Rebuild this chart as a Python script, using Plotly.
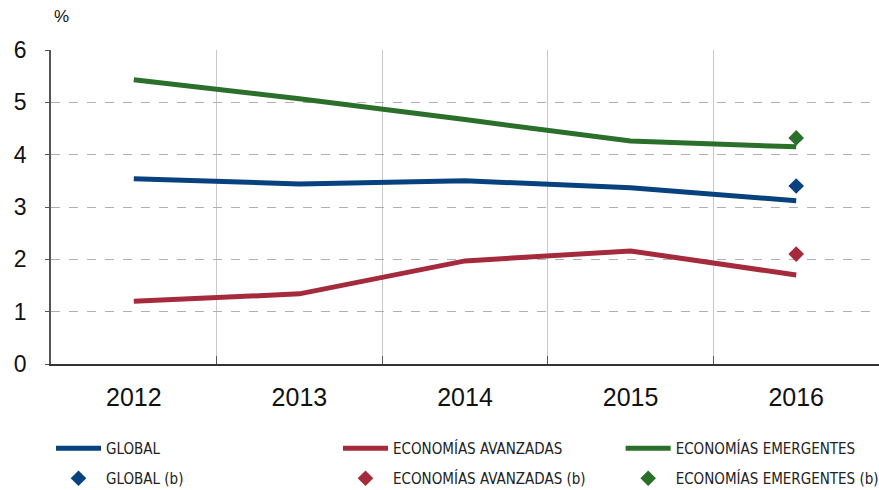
import plotly.graph_objects as go

years = ["2012", "2013", "2014", "2015", "2016"]
global_vals = [3.54, 3.44, 3.50, 3.37, 3.12]
avanzadas_vals = [1.20, 1.34, 1.97, 2.16, 1.70]
emergentes_vals = [5.43, 5.07, 4.67, 4.26, 4.15]
b_year = ["2016"]
global_b = [3.40]
avanzadas_b = [2.10]
emergentes_b = [4.32]

c_blue = "#07427f"
c_red = "#a52a3c"
c_green = "#2a6f2a"

col_x = [0.0, 0.3466, 0.688]
row_y = [-0.2166, -0.312]

fig = go.Figure()
lines = [("GLOBAL", global_vals, c_blue),
         ("ECONOMÍAS AVANZADAS", avanzadas_vals, c_red),
         ("ECONOMÍAS EMERGENTES", emergentes_vals, c_green)]
marks = [("GLOBAL (b)", global_b, c_blue),
         ("ECONOMÍAS AVANZADAS (b)", avanzadas_b, c_red),
         ("ECONOMÍAS EMERGENTES (b)", emergentes_b, c_green)]
for i, (name, vals, col) in enumerate(lines):
    fig.add_trace(go.Scatter(x=years, y=vals, mode="lines", name=name,
                             line=dict(color=col, width=5),
                             legend="legend" if i == 0 else f"legend{i+1}"))
for i, (name, vals, col) in enumerate(marks):
    fig.add_trace(go.Scatter(x=b_year, y=vals, mode="markers", name=name,
                             marker=dict(color=col, size=12, symbol="diamond"),
                             legend=f"legend{i+4}"))

leg_font = dict(family="Liberation Sans Narrow, DejaVu Sans Condensed, Liberation Sans", size=15, color="#222")
legends = {}
for r in range(2):
    for c in range(3):
        k = r * 3 + c
        key = "legend" if k == 0 else f"legend{k+1}"
        legends[key] = dict(x=col_x[c], y=row_y[r], xanchor="left", yanchor="top",
                            font=leg_font, itemwidth=45, bgcolor="rgba(0,0,0,0)",
                            visible=True)

fig.update_layout(
    width=879, height=490,
    margin=dict(l=51, r=0, t=50, b=126, autoexpand=False),
    plot_bgcolor="white", paper_bgcolor="white",
    showlegend=True,
    font=dict(family="Liberation Sans, Arial", color="#111"),
    xaxis=dict(type="category", tickson="boundaries", showgrid=True,
               gridcolor="#c8c8c8", gridwidth=1, ticks="inside", ticklen=8,
               tickcolor="#555", showline=True, linecolor="#333", linewidth=1.5,
               tickfont=dict(size=25, color="#111"), range=[-0.5, 4.5],
               zeroline=False, automargin=False, ticklabelstandoff=10),
    yaxis=dict(range=[0, 6], tickvals=[0, 1, 2, 3, 4, 5, 6], showgrid=True,
               gridcolor="#b0b0b0", griddash="dash", gridwidth=1,
               ticks="outside", ticklen=4, tickcolor="#555",
               showline=True, linecolor="#555", linewidth=1.5,
               tickfont=dict(size=23, color="#111"), zeroline=False,
               automargin=False, ticklabelstandoff=14),
    annotations=[dict(text="%", x=0.0, y=1.0, xref="paper", yref="paper",
                      xanchor="left", yanchor="bottom", yshift=22, xshift=1,
                      showarrow=False, font=dict(size=17, color="#111"))],
    **legends,
)
fig.write_html("out.html", config={"displayModeBar": False},
               post_script="document.body.style.margin='0';")
